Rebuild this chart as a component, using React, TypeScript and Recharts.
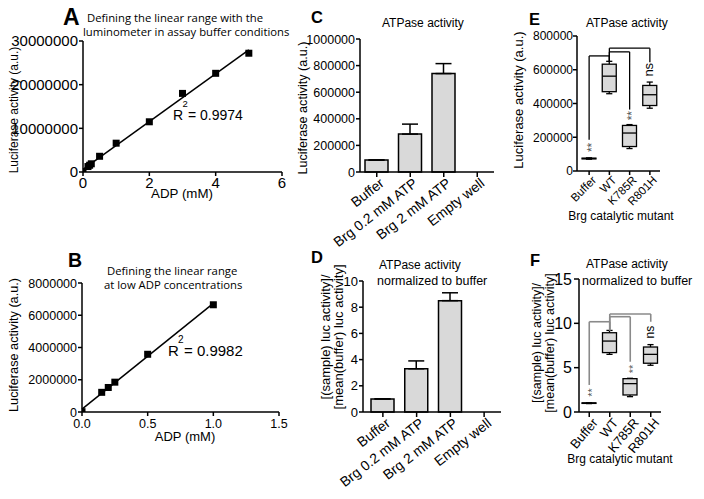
import React from 'react';
import {
  ScatterChart,
  Scatter,
  ComposedChart,
  Bar,
  ErrorBar,
  XAxis,
  YAxis,
  ReferenceLine,
  ReferenceDot,
} from 'recharts';

const W = 704;
const H = 499;
const SANS = '"Liberation Sans", Arial, Helvetica, sans-serif';
const HUM = '"Open Sans", "Noto Sans", sans-serif';
const YW = 40;
const XH = 30;

// ---------- Panel A: ADP standard curve ----------
const adpA = [0, 0.15, 0.2, 0.25, 0.5, 1, 2, 3, 4, 5];
const lucA = [50000, 1250000, 1550000, 1880000, 3600000, 6600000, 11500000, 18000000, 22600000, 27200000];
const xTicksA = [0, 2, 4, 6];
const yTicksA = [0, 10000000, 20000000, 30000000];

// ---------- Panel B: low ADP range ----------
const adpB = [0, 0.15, 0.2, 0.25, 0.5, 1.0];
const lucB = [20000, 1220000, 1520000, 1850000, 3580000, 6650000];
const xTicksB = [0, 0.5, 1.0, 1.5];
const yTicksB = [0, 2000000, 4000000, 6000000, 8000000];

// ---------- Panel C / D: ATPase activity ----------
const conditions = ['Buffer', 'Brg 0.2 mM ATP', 'Brg 2 mM ATP', 'Empty well'];
const lucC = [90000, 285000, 740000, 0];
const errC = [0, 75000, 75000, 0];
const yTicksC = [0, 200000, 400000, 600000, 800000, 1000000];
const normD = [1, 3.3, 8.5, 0];
const errD = [0, 0.6, 0.6, 0];
const yTicksD = [0, 2, 4, 6, 8, 10];

// ---------- Panel E / F: catalytic mutants (box plots) ----------
const mutants = ['Buffer', 'WT', 'K785R', 'R801H'];
const minE = [70000, 458000, 133000, 372000];
const q1E = [72000, 470000, 145000, 388000];
const medE = [74000, 562000, 225000, 452000];
const q3E = [76000, 633000, 270000, 507000];
const maxE = [78000, 650000, 275000, 527000];
const yTicksE = [0, 200000, 400000, 600000, 800000];

const minF = [0.95, 6.5, 1.73, 5.27];
const q1F = [0.97, 6.7, 1.92, 5.5];
const medF = [1.0, 8.0, 3.2, 6.5];
const q3F = [1.03, 8.94, 3.76, 7.33];
const maxF = [1.05, 9.2, 3.8, 7.6];
const yTicksF = [0, 5, 10, 15];

// significance annotations: comparison vs WT
const sigLabels = ['**', '', '**', 'ns'];
const bracketE = [682000, 706000, 728000];
const tailE = [185000, 0, 364000, 645000];
const sigPosE = [140000, 0, 328000, 600000];
const bracketF = [10.18, 10.75, 11.05];
const tailF = [3.05, 0, 5.67, 10.18];
const sigPosF = [2.2, 0, 4.85, 9.0];

function regress(xs: number[], ys: number[]) {
  const n = xs.length;
  const mx = xs.reduce((a, b) => a + b, 0) / n;
  const my = ys.reduce((a, b) => a + b, 0) / n;
  let sxy = 0;
  let sxx = 0;
  for (let i = 0; i < n; i++) {
    sxy += (xs[i] - mx) * (ys[i] - my);
    sxx += (xs[i] - mx) * (xs[i] - mx);
  }
  const m = sxy / sxx;
  return { m, b: my - m * mx };
}
const fitA = regress(adpA, lucA);
const fitB = regress(adpB, lucB);

const pointsA = adpA.map((x, i) => ({ x, y: lucA[i] }));
const pointsB = adpB.map((x, i) => ({ x, y: lucB[i] }));
const dataC = conditions.map((name, i) => ({ name, value: lucC[i], err: [0, errC[i]] }));
const dataD = conditions.map((name, i) => ({ name, value: normD[i], err: [0, errD[i]] }));
const dataE = mutants.map((name, i) => ({
  name, range: [minE[i], maxE[i]], min: minE[i], q1: q1E[i], med: medE[i], q3: q3E[i], max: maxE[i],
}));
const dataF = mutants.map((name, i) => ({
  name, range: [minF[i], maxF[i]], min: minF[i], q1: q1F[i], med: medF[i], q3: q3F[i], max: maxF[i],
}));

const frame = (l: number, t: number, r: number, b: number) => ({
  left: l - YW,
  top: t,
  right: W - r,
  bottom: H - b - XH,
});

const AX = { stroke: '#000', strokeWidth: 1.5 };

const Square = (p: any) => (
  <rect x={p.cx - 3.5} y={p.cy - 3.5} width={7} height={7} fill="#000" />
);

const makeYTick = (fontSize: number, fmt?: (v: number) => string) => (p: any) => (
  <text x={p.x} y={p.y} textAnchor="end" dy="0.36em" fontSize={fontSize} fontFamily={SANS} fill="#000">
    {fmt ? fmt(p.payload.value) : String(p.payload.value)}
  </text>
);

const makeXTick = (fontSize: number, fmt?: (v: number) => string) => (p: any) => (
  <text x={p.x} y={p.y} textAnchor="middle" dy="0.72em" fontSize={fontSize} fontFamily={SANS} fill="#000">
    {fmt ? fmt(p.payload.value) : String(p.payload.value)}
  </text>
);

const makeRotTick = (fontSize: number, angle: number, dx: number) => (p: any) => (
  <text
    transform={`translate(${p.x + dx},${p.y}) rotate(${angle})`}
    textAnchor="end"
    dy="0.72em"
    fontSize={fontSize}
    fontFamily={SANS}
    fill="#000"
  >
    {p.payload.value}
  </text>
);

const BoxShape = (props: any) => {
  const { x, y, width, height, payload } = props;
  const top = Math.min(y, y + height);
  const h = Math.abs(height);
  const { min, q1, med, q3, max } = payload;
  const span = max - min;
  const py = (v: number) => top + ((max - v) / span) * h;
  const cx = x + width / 2;
  const cap = width * 0.22;
  const st = { stroke: '#000', strokeWidth: 1.3 };
  return (
    <g>
      <line x1={cx} x2={cx} y1={py(max)} y2={py(q3)} {...st} />
      <line x1={cx} x2={cx} y1={py(q1)} y2={py(min)} {...st} />
      <line x1={cx - cap} x2={cx + cap} y1={py(max)} y2={py(max)} {...st} />
      <line x1={cx - cap} x2={cx + cap} y1={py(min)} y2={py(min)} {...st} />
      <rect x={x} y={py(q3)} width={width} height={Math.max(py(q1) - py(q3), 0.5)} fill="#d9d9d9" {...st} />
      <line x1={x} x2={x + width} y1={py(med)} y2={py(med)} {...st} />
    </g>
  );
};

const sigShape = (text: string, size: number, color: string, dy: string) => (p: any) => (
  <g opacity={0.99}>
    <text
      transform={`translate(${p.cx},${p.cy}) rotate(-90)`}
      textAnchor="middle"
      dy={dy}
      fontSize={size}
      fontFamily={SANS}
      fill={color}
      style={{ WebkitFontSmoothing: 'antialiased' }}
    >
      {text}
    </text>
  </g>
);

function brackets(levels: number[], tails: number[], maxWT: number, color: string, width: number) {
  const targets = [0, 2, 3];
  const out: any[] = [];
  targets.forEach((t, k) => {
    const lvl = levels[k];
    const name = mutants[t];
    out.push(
      <ReferenceLine key={`h${k}`} segment={[{ x: name, y: lvl }, { x: 'WT', y: lvl }]} stroke={color} strokeWidth={width} ifOverflow="visible" />,
      <ReferenceLine key={`v${k}`} segment={[{ x: name, y: lvl }, { x: name, y: tails[t] }]} stroke={color} strokeWidth={width} ifOverflow="visible" />,
      <ReferenceLine key={`w${k}`} segment={[{ x: 'WT', y: lvl }, { x: 'WT', y: maxWT }]} stroke={color} strokeWidth={width} ifOverflow="visible" />,
    );
  });
  return out;
}

function sigMarks(pos: number[], starSize: number, nsSize: number) {
  const out: any[] = [];
  sigLabels.forEach((lab, i) => {
    if (!lab) return;
    const isNs = lab === 'ns';
    out.push(
      <ReferenceDot
        key={`s${i}`}
        x={mutants[i]}
        y={pos[i]}
        r={0}
        ifOverflow="visible"
        shape={sigShape(lab, isNs ? nsSize : starSize, isNs ? '#000' : '#555', isNs ? '0.27em' : '0.57em')}
      />,
    );
  });
  return out;
}

const Abs = ({ children }: any) => (
  <div style={{ position: 'absolute', left: 0, top: 0 }}>{children}</div>
);

const T = ({ x, y, size, children, anchor = 'start', weight = 'normal', font = SANS, rot = 0 }: any) =>
  rot ? (
    <text transform={`translate(${x},${y}) rotate(${rot})`} textAnchor={anchor} dy="0.35em" fontSize={size} fontWeight={weight} fontFamily={font} fill="#000">
      {children}
    </text>
  ) : (
    <text x={x} y={y} textAnchor={anchor} fontSize={size} fontWeight={weight} fontFamily={font} fill="#000">
      {children}
    </text>
  );

export default function App() {
  return (
    <div style={{ position: 'absolute', left: 0, top: 0, width: W, height: H, background: '#fff', overflow: 'hidden' }}>
      {/* Panel A */}
      <Abs>
        <ScatterChart width={W} height={H} margin={frame(83, 41, 282, 172)}>
          <XAxis type="number" dataKey="x" domain={[0, 6]} ticks={xTicksA} interval={0} height={XH}
            axisLine={AX} tickLine={AX} tickSize={4} tickMargin={1} allowDataOverflow
            tick={makeXTick(15)} />
          <YAxis type="number" dataKey="y" domain={[0, 30000000]} ticks={yTicksA} interval={0} width={YW}
            axisLine={AX} tickLine={AX} tickSize={4} tickMargin={1} allowDataOverflow
            tick={makeYTick(15)} />
          <ReferenceLine segment={[{ x: 0, y: fitA.b }, { x: 5, y: fitA.b + 5 * fitA.m }]} stroke="#000" strokeWidth={1.5} ifOverflow="visible" />
          <Scatter data={pointsA} shape={Square} isAnimationActive={false} />
        </ScatterChart>
      </Abs>

      {/* Panel B */}
      <Abs>
        <ScatterChart width={W} height={H} margin={frame(82, 283, 279, 412)}>
          <XAxis type="number" dataKey="x" domain={[0, 1.5]} ticks={xTicksB} interval={0} height={XH}
            axisLine={AX} tickLine={AX} tickSize={4} tickMargin={3} allowDataOverflow
            tick={makeXTick(12.5, (v: number) => v.toFixed(1))} />
          <YAxis type="number" dataKey="y" domain={[0, 8000000]} ticks={yTicksB} interval={0} width={YW}
            axisLine={AX} tickLine={AX} tickSize={4} tickMargin={1} allowDataOverflow
            tick={makeYTick(12.5)} />
          <ReferenceLine segment={[{ x: 0, y: fitB.b }, { x: 1, y: fitB.b + fitB.m }]} stroke="#000" strokeWidth={1.5} ifOverflow="visible" />
          <Scatter data={pointsB} shape={Square} isAnimationActive={false} />
        </ScatterChart>
      </Abs>

      {/* Panel C */}
      <Abs>
        <ComposedChart width={W} height={H} data={dataC} margin={frame(360, 39, 494, 172)}>
          <XAxis dataKey="name" height={XH} interval={0} axisLine={AX} tickLine={AX} tickSize={5} tickMargin={0}
            tick={makeRotTick(14, -38, 2)} />
          <YAxis domain={[0, 1000000]} ticks={yTicksC} interval={0} width={YW} axisLine={AX} tickLine={AX}
            tickSize={4} tickMargin={1} tick={makeYTick(12.5)} />
          <Bar dataKey="value" barSize={23} fill="#d9d9d9" stroke="#000" strokeWidth={1.5} isAnimationActive={false}>
            <ErrorBar dataKey="err" width={8} stroke="#000" strokeWidth={1.5} direction="y" />
          </Bar>
        </ComposedChart>
      </Abs>

      {/* Panel D */}
      <Abs>
        <ComposedChart width={W} height={H} data={dataD} margin={frame(363, 281, 501, 412)}>
          <XAxis dataKey="name" height={XH} interval={0} axisLine={AX} tickLine={AX} tickSize={5} tickMargin={0}
            padding={{ left: 3, right: 0 }} tick={makeRotTick(14, -38, 2)} />
          <YAxis domain={[0, 10]} ticks={yTicksD} interval={0} width={YW} axisLine={AX} tickLine={AX}
            tickSize={4} tickMargin={1} tick={makeYTick(13)} />
          <Bar dataKey="value" barSize={23} fill="#d9d9d9" stroke="#000" strokeWidth={1.5} isAnimationActive={false}>
            <ErrorBar dataKey="err" width={8} stroke="#000" strokeWidth={1.5} direction="y" />
          </Bar>
        </ComposedChart>
      </Abs>

      {/* Panel E */}
      <Abs>
        <ComposedChart width={W} height={H} data={dataE} margin={frame(577, 36, 660, 171)}>
          <XAxis dataKey="name" height={XH} interval={0} axisLine={AX} tickLine={AX} tickSize={4} tickMargin={0}
            padding={{ left: 2, right: 0 }} tick={makeRotTick(11.5, -45, 2)} />
          <YAxis domain={[0, 800000]} ticks={yTicksE} interval={0} width={YW} axisLine={AX} tickLine={AX}
            tickSize={4} tickMargin={0} tick={makeYTick(12)} />
          <Bar dataKey="range" barSize={14} shape={BoxShape} isAnimationActive={false} />
          {brackets(bracketE, tailE, maxE[1], '#000', 1.3)}
          {sigMarks(sigPosE, 12, 13)}
        </ComposedChart>
      </Abs>

      {/* Panel F */}
      <Abs>
        <ComposedChart width={W} height={H} data={dataF} margin={frame(579, 279, 661, 412)}>
          <XAxis dataKey="name" height={XH} interval={0} axisLine={AX} tickLine={AX} tickSize={5} tickMargin={0}
            tick={makeRotTick(13, -50, 2)} />
          <YAxis domain={[0, 15]} ticks={yTicksF} interval={0} width={YW} axisLine={AX} tickLine={AX}
            tickSize={5} tickMargin={2} tick={makeYTick(16)} />
          <Bar dataKey="range" barSize={14} shape={BoxShape} isAnimationActive={false} />
          {brackets(bracketF, tailF, maxF[1], '#8a8a8a', 1.6)}
          {sigMarks(sigPosF, 11, 12)}
        </ComposedChart>
      </Abs>

      {/* Text overlay */}
      <svg width={W} height={H} style={{ position: 'absolute', left: 0, top: 0, pointerEvents: 'none' }}>
        {/* panel letters */}
        <T x={63} y={25} size={23} weight="bold">A</T>
        <T x={68} y={267} size={19.5} weight="bold">B</T>
        <T x={311} y={23} size={16.5} weight="bold">C</T>
        <T x={311} y={263} size={16.5} weight="bold">D</T>
        <T x={529} y={25} size={16.5} weight="bold">E</T>
        <T x={530} y={266} size={16.5} weight="bold">F</T>

        {/* titles */}
        <T x={87} y={22} size={11.3} font={HUM}>Defining the linear range with the</T>
        <T x={83} y={36} size={11.3} font={HUM}>luminometer in assay buffer conditions</T>
        <T x={107} y={275} size={11.3} font={HUM}>Defining the linear range</T>
        <T x={104} y={289} size={11.3} font={HUM}>at low ADP concentrations</T>
        <T x={382} y={27} size={12}>ATPase activity</T>
        <T x={379} y={269} size={12}>ATPase activity</T>
        <T x={377} y={285} size={12.5}>normalized to buffer</T>
        <T x={586} y={27} size={12}>ATPase activity</T>
        <T x={586} y={268} size={12}>ATPase activity</T>
        <T x={582} y={285} size={12.5}>normalized to buffer</T>

        {/* y-axis labels */}
        <T x={14} y={110} size={12} rot={-90} anchor="middle">Luciferase activity (a.u.)</T>
        <T x={14} y={345} size={12.7} rot={-90} anchor="middle">Luciferase activity (a.u.)</T>
        <T x={303} y={108} size={12.6} rot={-90} anchor="middle">Luciferase activity (a.u.)</T>
        <T x={325} y={337} size={13} rot={-90} anchor="middle">[(sample) luc activity]/</T>
        <T x={338} y={337} size={13} rot={-90} anchor="middle">[mean(buffer) luc activity]</T>
        <T x={518} y={100} size={13} rot={-90} anchor="middle">Luciferase activity (a.u.)</T>
        <T x={537} y={343} size={12.5} rot={-90} anchor="middle">[(sample) luc activity]/</T>
        <T x={550} y={343} size={12.5} rot={-90} anchor="middle">[mean(buffer) luc activity]</T>

        {/* x-axis labels */}
        <T x={182} y={198} size={13.3} anchor="middle">ADP (mM)</T>
        <T x={185} y={441} size={13} anchor="middle">ADP (mM)</T>
        <T x={621} y={220} size={12} anchor="middle">Brg catalytic mutant</T>
        <T x={620} y={463} size={12} anchor="middle">Brg catalytic mutant</T>

        {/* R squared */}
        <T x={173} y={120} size={14}>R</T>
        <T x={182.5} y={107} size={9.5}>2</T>
        <T x={188} y={120} size={14}>= 0.9974</T>
        <T x={168} y={356} size={15}>R</T>
        <T x={178} y={343} size={10}>2</T>
        <T x={184} y={356} size={15}>= 0.9982</T>
      </svg>
    </div>
  );
}
